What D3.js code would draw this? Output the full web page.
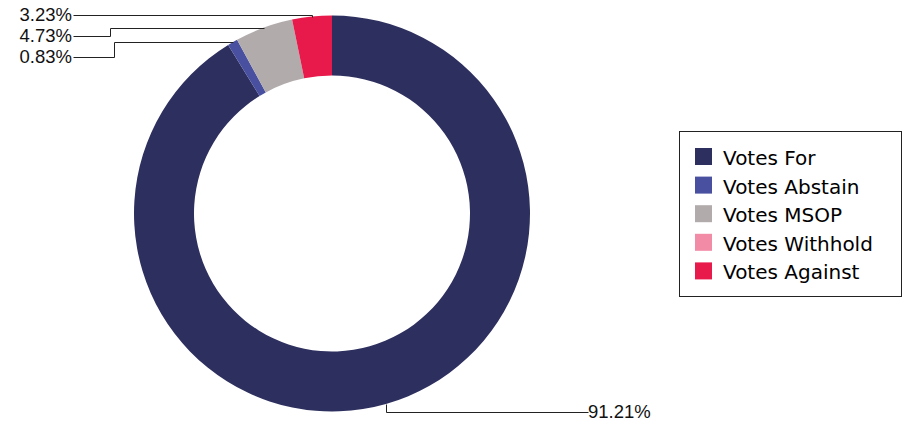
<!DOCTYPE html>
<html>
<head>
<meta charset="utf-8">
<script src="https://cdn.jsdelivr.net/npm/d3@7"></script>
<style>
  body { margin: 0; background: #fff; }
  svg { display: block; }
</style>
</head>
<body>
<div id="chart"></div>
<script>
// DATA
var categories = ["Votes For", "Votes Abstain", "Votes MSOP", "Votes Withhold", "Votes Against"];
var values = [91.21, 0.83, 4.73, 0, 3.23];
var colors = ["#2d2f5e", "#4a50a0", "#b2abac", "#f28ba6", "#e8194b"];

// label placement (layout only): which slice, where the text ends / starts, elbow
var labelLayout = [
  { idx: 0, x: 588, y: 412, anchor: "start", elbow: null },
  { idx: 1, x: 73, y: 57, anchor: "end", elbow: 114 },
  { idx: 2, x: 73, y: 36, anchor: "end", elbow: 110 },
  { idx: 4, x: 73, y: 15, anchor: "end", elbow: null }
];

var width = 907, height = 422;
var cx = 332, cy = 213.5, outerR = 198, innerR = 138;

var svg = d3.select("#chart").append("svg")
    .attr("width", width)
    .attr("height", height);

var pie = d3.pie().sort(null).value(function(d){ return d; });
var arcs = pie(values);

var arc = d3.arc().innerRadius(innerR).outerRadius(outerR);

var g = svg.append("g").attr("transform", "translate(" + cx + "," + cy + ")");

g.selectAll(".slice")
  .data(arcs)
  .enter()
  .append("path")
  .attr("class", "slice")
  .attr("d", arc)
  .attr("fill", function(d, i){ return colors[i]; });

// leader lines + labels
labelLayout.forEach(function(l){
    var a = arcs[l.idx];
    var mid = (a.startAngle + a.endAngle) / 2;
    var px = cx + outerR * Math.sin(mid);
    var py = cy - outerR * Math.cos(mid);
    var ex = l.elbow == null ? px : l.elbow;
    var pts = [[px, py], [ex, py], [ex, l.y], [l.x, l.y]];
    var pts2 = pts.map(function(p){ return [Math.round(p[0]) + 0.5, Math.round(p[1]) + 0.5]; });
    svg.append("path")
      .attr("d", d3.line()(pts2))
      .attr("fill", "none")
      .attr("stroke", "#222")
      .attr("stroke-width", 1);
    svg.append("text")
      .attr("x", l.anchor == "end" ? l.x - 1 : l.x)
      .attr("y", l.y)
      .attr("dy", "0.35em")
      .attr("text-anchor", l.anchor)
      .style("font-family", "'Liberation Sans', Arial, sans-serif")
      .style("font-size", "18.5px")
      .style("fill", "#111")
      .text(values[l.idx].toFixed(2) + "%");
});

// legend
var legend = svg.append("g").attr("transform", "translate(679.5,131.5)");
legend.append("rect")
  .attr("width", 222)
  .attr("height", 165)
  .attr("fill", "#fff")
  .attr("stroke", "#222")
  .attr("stroke-width", 1);

var rows = legend.selectAll(".row")
  .data(categories)
  .enter()
  .append("g")
  .attr("class", "row")
  .attr("transform", function(d, i){ return "translate(15.5," + (16.5 + i * 28.6) + ")"; });

rows.append("rect")
  .attr("width", 17)
  .attr("height", 17)
  .attr("fill", function(d, i){ return colors[i]; });

rows.append("text")
  .attr("x", 28)
  .attr("y", 17)
  .style("font-family", "'DejaVu Sans', Verdana, sans-serif")
  .style("font-size", "20px")
  .style("fill", "#000")
  .text(function(d){ return d; });
</script>
</body>
</html>
